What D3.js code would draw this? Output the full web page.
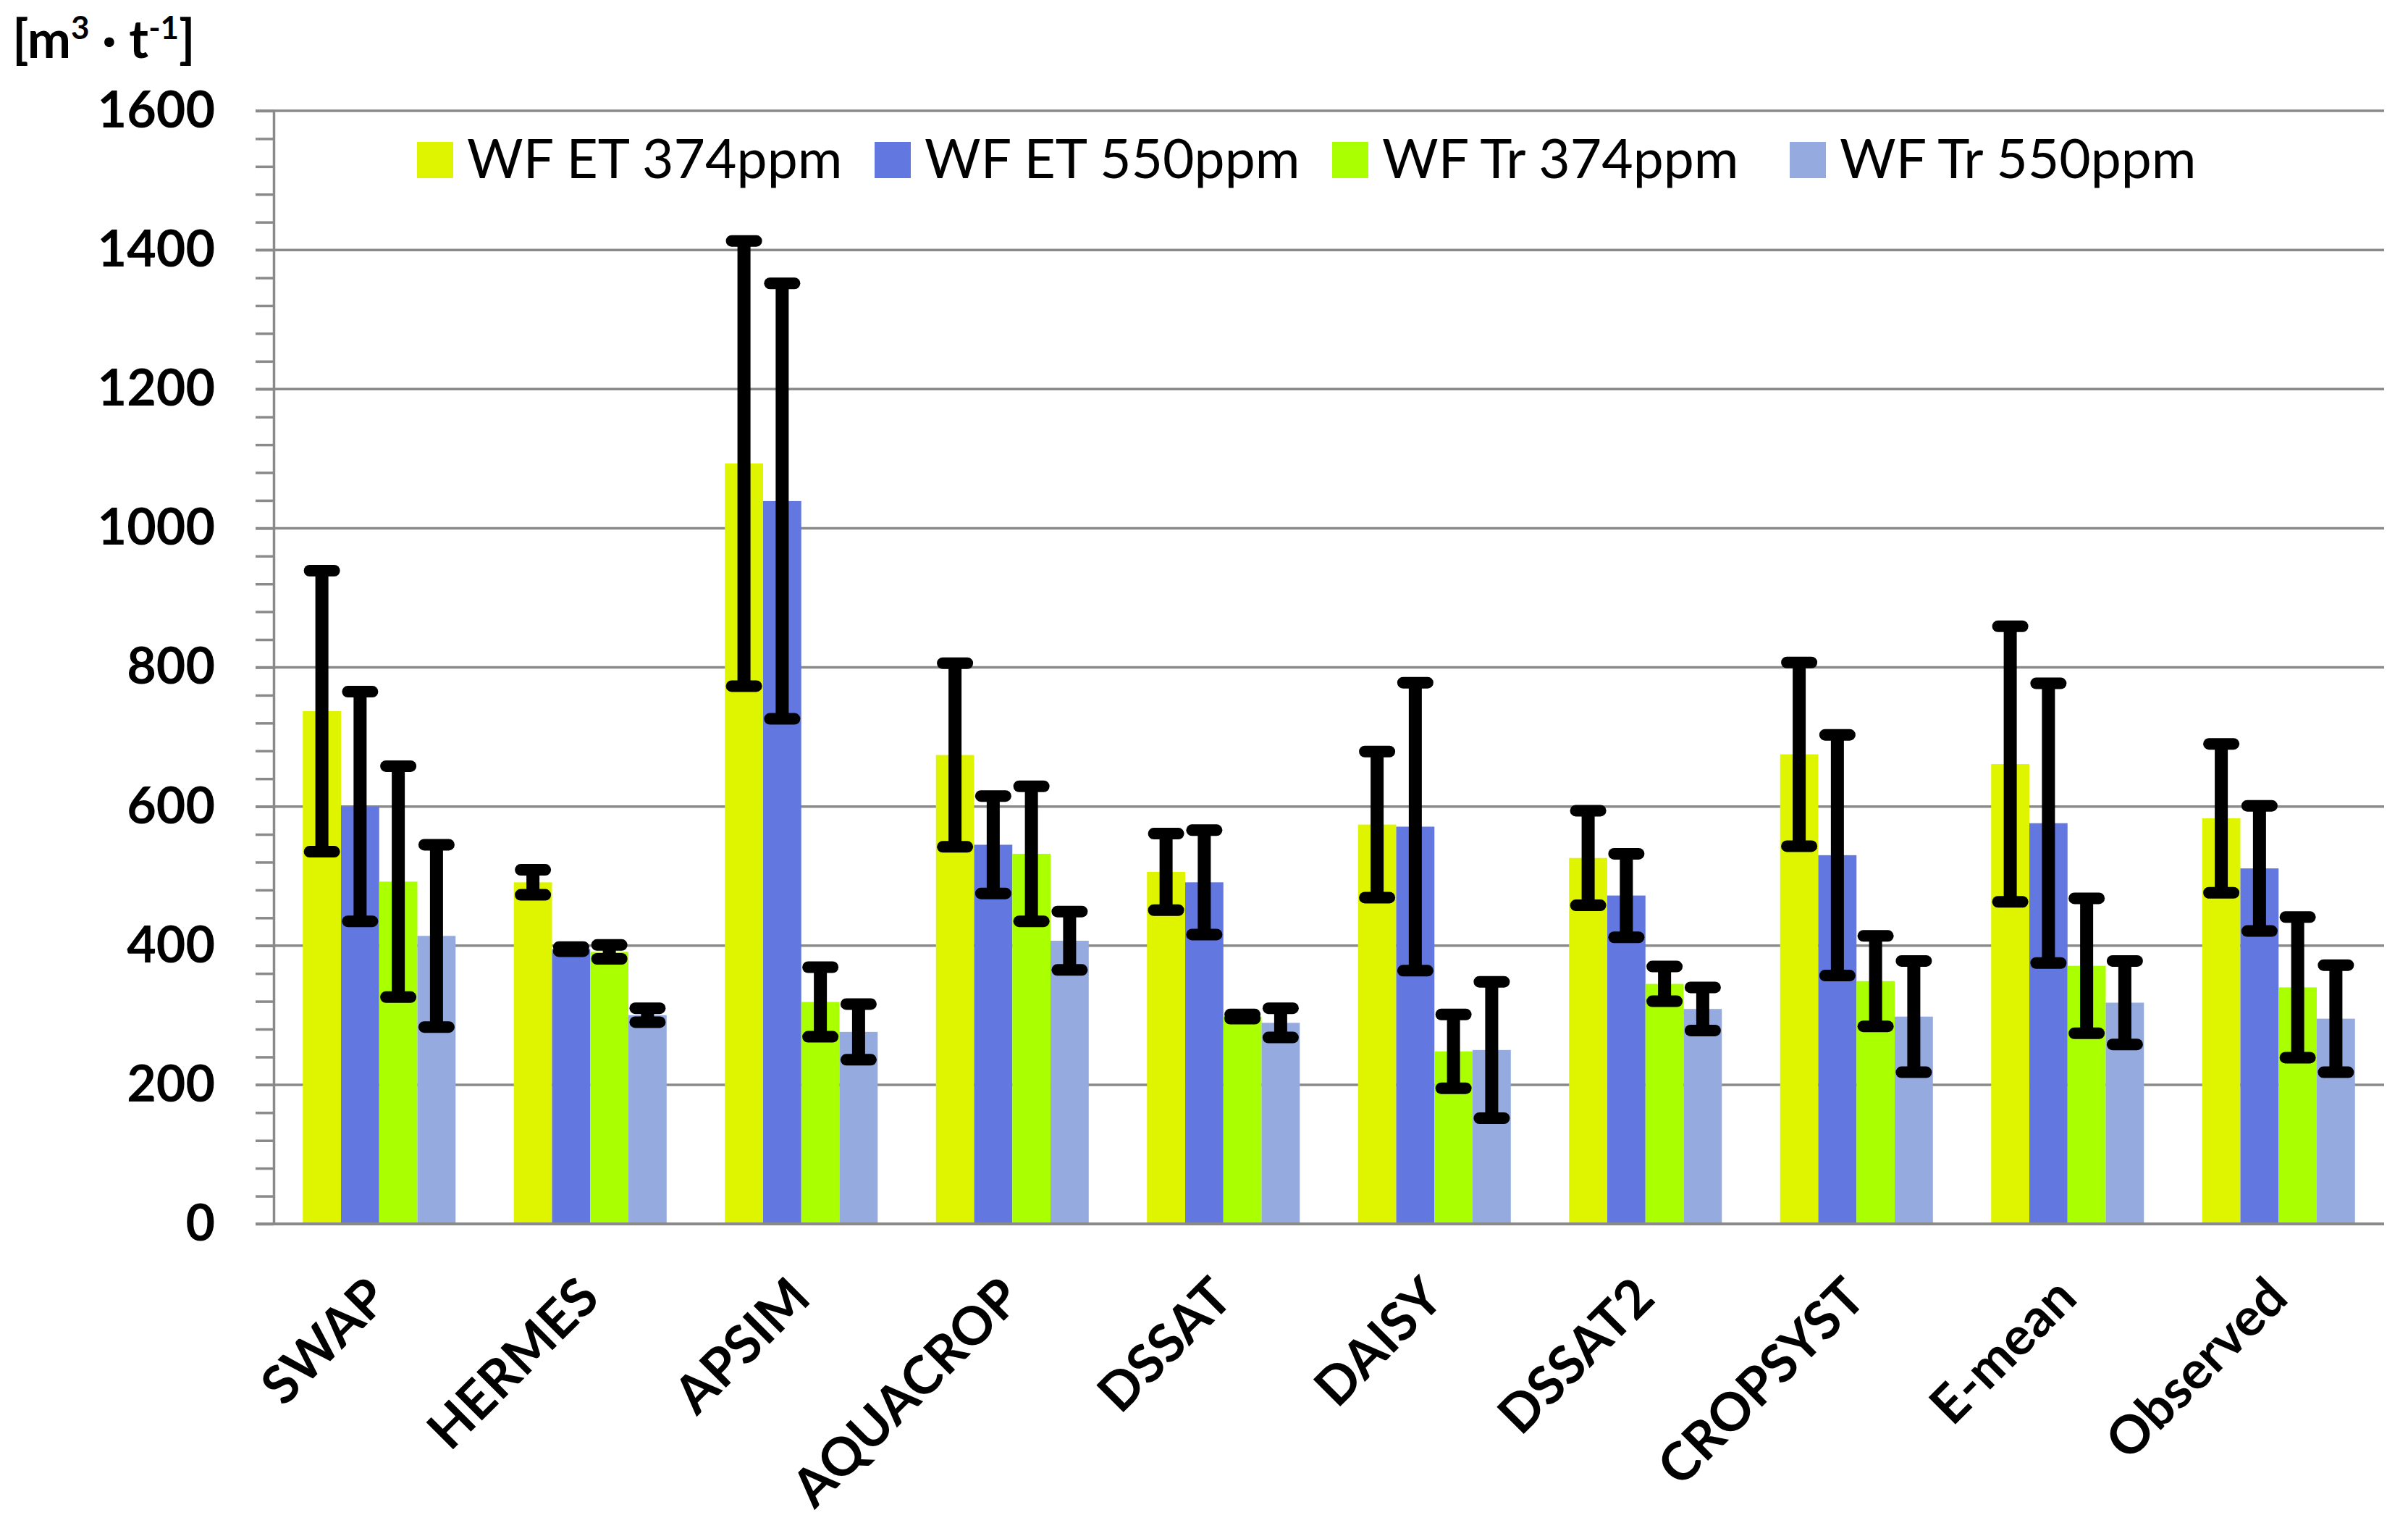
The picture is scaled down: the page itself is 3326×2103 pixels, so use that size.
<!DOCTYPE html>
<html>
<head>
<meta charset="utf-8">
<script src="https://cdn.jsdelivr.net/npm/d3@7"></script>
<style>
  body { margin: 0; background: #fff; }
  svg text { font-family: Lato, "Open Sans", sans-serif; fill: #000; }
</style>
</head>
<body>
<div id="chart"></div>
<script>
// categories and series
const categories = ["SWAP", "HERMES", "APSIM", "AQUACROP", "DSSAT", "DAISY", "DSSAT2", "CROPSYST", "E-mean", "Observed"];
const seriesNames = ["WF ET 374ppm", "WF ET 550ppm", "WF Tr 374ppm", "WF Tr 550ppm"];
const seriesColors = ["#dff500", "#6277e0", "#aaff00", "#95aade"];

// bar heights [m3/t]
const wfEt374 = [737, 491, 1093, 674, 506, 574, 526, 675, 661, 583];
const wfEt550 = [600, 395, 1039, 545, 491, 571, 472, 530, 576, 511];
const wfTr374 = [492, 391, 319, 532, 298, 248, 345, 349, 371, 340];
const wfTr550 = [414, 300, 276, 407, 289, 250, 309, 298, 318, 295];

// error bar half ranges
const wfEt374Err = [202, 18, 320, 132, 55, 105, 68, 132, 198, 107];
const wfEt550Err = [165, 3, 313, 70, 75, 207, 60, 173, 201, 90];
const wfTr374Err = [166, 10, 50, 97, 3, 53, 25, 65, 97, 101];
const wfTr550Err = [131, 10, 40, 42, 21, 98, 31, 80, 60, 77];

const yTicks = d3.range(0, 1601, 40);
const yLabels = [0, 200, 400, 600, 800, 1000, 1200, 1400, 1600];

const values = [wfEt374, wfEt550, wfTr374, wfTr550];
const errors = [wfEt374Err, wfEt550Err, wfTr374Err, wfTr550Err];

const W = 3326, H = 2103;
const plot = {left: 378, right: 3293, top: 153, bottom: 1690};
const gridCol = "#8a8a8a";

const svg = d3.select("#chart").append("svg")
  .attr("width", W).attr("height", H);

const x0 = d3.scaleBand()
  .domain(categories)
  .range([plot.left, plot.right])
  .paddingInner(0.276)
  .paddingOuter(0.138);

const x1 = d3.scaleBand()
  .domain(seriesNames)
  .range([0, x0.bandwidth()]);

const y = d3.scaleLinear()
  .domain([0, 1600])
  .range([plot.bottom, plot.top]);

const color = d3.scaleOrdinal().domain(seriesNames).range(seriesColors);

// gridlines on the 200 steps
svg.append("g")
  .selectAll("line")
  .data(yLabels)
  .join("line")
    .attr("x1", plot.left - 25)
    .attr("x2", plot.right)
    .attr("y1", d => y(d))
    .attr("y2", d => y(d))
    .attr("stroke", gridCol)
    .attr("stroke-width", 3.5);

// y axis with minor ticks every 40
const yAxis = svg.append("g")
  .attr("transform", `translate(${plot.left},0)`)
  .call(d3.axisLeft(y)
    .tickValues(yTicks)
    .tickSize(25)
    .tickSizeOuter(0)
    .tickPadding(56)
    .tickFormat(d => yLabels.includes(d) ? d : ""));
yAxis.select(".domain").attr("stroke", gridCol).attr("stroke-width", 3.5);
yAxis.selectAll(".tick line").attr("stroke", gridCol).attr("stroke-width", 3.5);
yAxis.selectAll(".tick text")
  .style("font-family", "Lato, sans-serif")
  .style("font-weight", "bold")
  .style("font-size", "70px")
  .attr("fill", "#000");

// rows of bars
const rows = categories.map((c, i) => ({
  cat: c,
  items: seriesNames.map((s, j) => ({key: s, v: values[j][i], e: errors[j][i]}))
}));

const groups = svg.append("g")
  .selectAll("g")
  .data(rows)
  .join("g")
    .attr("transform", d => `translate(${x0(d.cat)},0)`);

groups.selectAll("rect")
  .data(d => d.items)
  .join("rect")
    .attr("x", d => x1(d.key))
    .attr("y", d => y(d.v))
    .attr("width", x1.bandwidth())
    .attr("height", d => y(0) - y(d.v))
    .attr("fill", d => color(d.key));

// error bars
const eb = groups.selectAll("g.err")
  .data(d => d.items)
  .join("g")
    .attr("class", "err")
    .attr("transform", d => `translate(${x1(d.key) + x1.bandwidth() / 2},0)`);

eb.append("line")
  .attr("x1", 0).attr("x2", 0)
  .attr("y1", d => y(d.v + d.e))
  .attr("y2", d => y(d.v - d.e))
  .attr("stroke", "#000")
  .attr("stroke-width", 18);

eb.selectAll("line.cap")
  .data(d => [d.v + d.e, d.v - d.e])
  .join("line")
    .attr("class", "cap")
    .attr("x1", -17).attr("x2", 17)
    .attr("y1", d => y(d)).attr("y2", d => y(d))
    .attr("stroke", "#000")
    .attr("stroke-width", 16)
    .attr("stroke-linecap", "round");

// base line
svg.append("line")
  .attr("x1", plot.left - 25).attr("x2", plot.right)
  .attr("y1", y(0)).attr("y2", y(0))
  .attr("stroke", gridCol).attr("stroke-width", 4);

// category labels, rotated
svg.append("g")
  .selectAll("text")
  .data(categories)
  .join("text")
    .attr("transform", d => `translate(${x0(d) + x0.bandwidth() / 2 + 16},${plot.bottom + 106}) rotate(-45)`)
    .attr("text-anchor", "end")
    .style("font-weight", "bold")
    .style("font-size", "73px")
    .text(d => d);

// legend
const legend = svg.append("g")
  .selectAll("g")
  .data(seriesNames)
  .join("g")
    .attr("transform", (d, i) => `translate(${576 + i * 632},196)`);

legend.append("rect")
  .attr("width", 50).attr("height", 50)
  .attr("fill", d => color(d));

legend.append("text")
  .attr("x", 69).attr("y", 50)
  .style("font-size", "75px")
  .text(d => d);

// unit label
const unit = svg.append("text")
  .attr("x", 17).attr("y", 80)
  .style("font-weight", "bold")
  .style("font-size", "72px");
unit.append("tspan").text("[m");
unit.append("tspan").attr("dy", -26).style("font-size", "44px").text("3");
unit.append("tspan").attr("dy", 26).text(" · t");
unit.append("tspan").attr("dy", -26).style("font-size", "44px").text("-1");
unit.append("tspan").attr("dy", 26).text("]");
</script>
</body>
</html>
